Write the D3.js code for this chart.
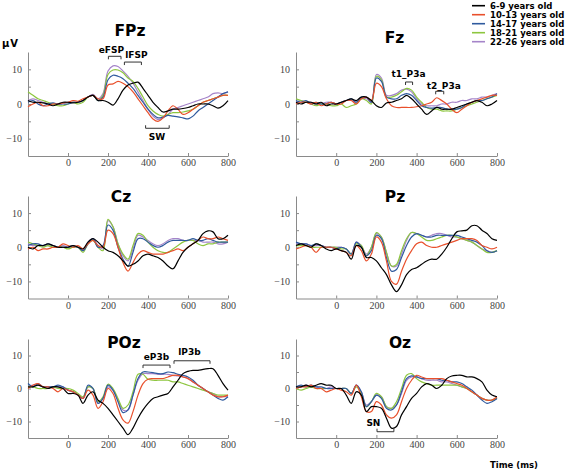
<!DOCTYPE html>
<html><head><meta charset="utf-8">
<script src="https://cdn.jsdelivr.net/npm/d3@7"></script>
<style>body{margin:0;background:#fff} svg{display:block}</style>
</head><body>
<svg id="chart" width="567" height="473"></svg>
<script>
// ---------- data ----------
const timeMs = [-200,-175,-150,-125,-100,-75,-50,-25,0,25,50,75,100,125,150,175,200,225,250,275,300,325,350,375,400,425,450,475,500,525,550,575,600,625,650,675,700,725,750,775,800];
const groups = ["6-9 years old","10-13 years old","14-17 years old","18-21 years old","22-26 years old"];
const electrodes = ["FPz","Fz","Cz","Pz","POz","Oz"];
const xTicks = [0,200,400,600,800];
const yTicks = [-10,-5,0,5,10];

// FPz
const fpz_6_9   = [1,0.5,0.5,0.3,0,-0.5,0,0.5,0.5,0.3,0.5,1,2,2.5,1,1, 0.5,-0.3,1.5,4,5.5,6,6.3,4.5,2.5,0.5,-1,-2.3,-2,-1.5,-1.5,-1.3,-1,-0.5,0,0,0,-0.5,-1.2,-0.5,1];
const fpz_10_13 = [-0.8,0,0.5,-0.5,-0.5,0,0,0.3,0.5,1,0.8,1.5,2,2.5,1.5,1.5, 5.5,5.8,6.5,6,5,3.5,1.5,-0.5,-2.5,-4.3,-5,-4,-2,-0.5,-1.5,-3,-2.5,-1.5,-0.5,0.5,1,1.5,2,2.5,2.5];
const fpz_14_17 = [0.5,1,0,-0.5,0,0.3,0,0,0,0.5,0.5,1,2,2.5,1,2, 7,8.3,8,7.3,6,4.5,2.5,0.5,-1.5,-3,-4,-3.8,-3.3,-3.5,-3.7,-4,-4.3,-3.5,-2,-1,0,1,2,3,3.5];
const fpz_18_21 = [3.5,2.5,1.5,1,0.5,0,-0.5,-0.5,0,0.5,0,0.5,2,2.5,1,2.5, 8.5,9.8,9.8,9,7.5,6.5,4.5,2,-0.5,-2,-3,-3.5,-3,-2.5,-2.5,-2.3,-2,-1.5,-0.5,0.5,1,1.5,2,2.5,2.5];
const fpz_22_26 = [1,1.5,1,0.5,0,0,0,0.3,0.5,0.5,0.5,1,2,2.8,1.5,3, 9.5,11,10.8,9.5,8,6,3.5,1,-1.5,-3.5,-4.5,-4,-3,-1.5,-1,-0.5,0,0.5,1,1.5,2,3,3.2,3,3.5];
// Fz
const fz_6_9   = [0.5,0,0.5,0.5,0,0.5,-0.5,0,0,0.5,1,1.5,1,2,2,1, -0.5,-1,0.3,0.5,1,1.5,2.5,1.5,0,-1.5,-3,-2,-1,-1.5,-1.5,-1.5,-1,-0.5,0,0.5,1,0.5,-0.5,0,1];
const fz_10_13 = [0,0.5,0.5,0,0.5,-0.5,0,0.5,0,0,1,1,0,1.5,2,1, 6,5,1.5,-0.5,-1,-1,-1,-1,-0.8,-0.5,0,0.5,1.8,1,0,-1.5,-2.5,-1.5,-0.5,0.5,1,1.5,2,2.5,2.5];
const fz_14_17 = [1,0.5,1,0,0.5,0,0,0.5,0,0.5,1,1.5,0.5,2,2,0.5, 7.5,6.5,2,1.5,1.5,2.5,3,2.5,1,-0.5,-1,-1.2,-1,-1,-1.5,-1.5,-1.5,-1,0,0.5,1,1,1.5,2,3];
const fz_18_21 = [1.5,1,0.5,0,-0.5,0,0,-0.5,-0.5,0,-1,-0.5,0,1.5,1,0, 8,7,2,2,2.5,3.5,4.5,4,2,0.5,-1,-1.5,-1.5,-2,-2,-2,-1.5,-1,-0.5,0,0.5,1,1.5,2,2.5];
const fz_22_26 = [0.5,1,0.5,0.5,0,0,0.5,0.5,0,0.5,1,1,0.5,1.5,1.5,0.5, 8.5,7.5,2.5,2.5,3,4,4.3,3.5,1.5,0,-0.5,-0.5,-0.5,0,0,0.5,0.5,1,1,1.5,1.5,2,2,2.5,3];
// Cz
const cz_6_9   = [0,-0.5,0.5,0.5,1,0.5,0,0,0,0.5,0,-0.5,1.5,2.5,1.5,0, -1,-1.5,-2.5,-4,-5.5,-5,-4,-2.5,-2,-2.5,-3,-4,-5.5,-6.3,-4,-1.5,0,1,2,4,4.8,4.5,2.5,2.5,3.5];
const cz_10_13 = [-0.5,0,-1,-0.5,-0.5,0,0,1,0.5,0,0.5,-0.5,1,2,0.5,0, 5,4,0,-4.5,-7,-4.5,-2,-1,-1.5,-2,-2,-2,-1.5,-1,-0.5,-1,0,1,2,3,2.5,2.5,3,2.5,2];
const cz_14_17 = [0.5,1,1,0.5,1,0.5,0,0,0,0.5,0,-1,1,2.5,0,0.5, 6.5,5,0,-3.5,-5.5,-1.5,2.5,2.5,1.5,0.5,0,0.5,1.5,2,2,2,2,2.5,2,2,2.5,2,1.5,1.5,1.5];
const cz_18_21 = [1.5,1,0.5,0,0.5,0,0,0,-0.5,0,0,-1.5,1,2,0,-1, 8.2,6,1,-2,-3.5,0.5,4,3.5,1.5,0,-1,-1.5,-1.5,-0.5,0.5,1.5,2,2,1,0.5,1,1,1.5,1.5,1.5];
const cz_22_26 = [1,0.5,0.5,0.5,0.5,0,0,0.5,0,0,0,-1,1.5,2.5,0.5,-0.5, 7.8,6,1,-2.5,-4,-0.5,3.5,3,2,1,0.5,1,2,2.5,2.5,2,2,2,2,1.5,1.5,1.5,1,1,1.5];
// Pz
const pz_6_9   = [0.5,1,0.5,0,1,0.5,-0.5,-1,-0.5,-1,-1.5,-3.5,0.5,0,-3,-3, -4,-6,-8,-11,-13,-11,-8,-6.5,-6,-5,-4,-3.5,-3.5,-2,0,2.5,4.5,4.8,5,6.3,6.3,5,4,2.5,2];
const pz_10_13 = [-0.5,0,0.5,0,-1.5,0,0,0,-0.5,-1,-1.5,-2.5,0.5,-1,-4,-2, 3,1.5,-4,-10,-10.8,-7,-3.5,-1,1,1.5,0.5,0,0,0.5,1,1.5,2,2.5,2.5,2.5,2,0.5,0,-0.5,0];
const pz_14_17 = [1.5,1,1,0.5,1,0.5,0,0,-0.5,0,-0.5,-2,1.5,0,-2.5,-1, 3.5,2.5,-3,-7,-6.5,-3,0.5,3,4,3.5,3,3,3.5,3.5,3.5,3.5,3.5,3,2.5,2,1.5,0.5,-1,-1.5,-1];
const pz_18_21 = [0.5,0.5,0.5,0,0,0,0,0,0,-0.5,-0.5,-2,1,0.5,-2.5,0, 4.3,3,-1.5,-5.5,-5,-1,2.5,4.3,4,3,2,2,2.5,3,3.5,3.5,3,2.5,2,1.5,0.5,-0.5,-1.5,-1.5,-1];
const pz_22_26 = [1,1,1,0.5,0.5,0.5,0,0,0,0,-0.5,-2,1.5,0.5,-2,0, 4,3,-1.5,-5.5,-5.5,-2,2,4.3,4,3.5,3,3.5,4,4,3.5,3,3,2.5,2,1.5,0.5,-0.5,-1,-1.5,-1];
// POz
const poz_6_9   = [0.5,0.5,1,0.5,0,0.5,0.5,0,-1.5,-1.5,-2,-4.5,-2,-1,-3.5,-4.5, -6,-8,-10,-12,-14,-12,-9,-6.5,-4.5,-3,-2.5,-2,-1.5,0.5,2.5,4.5,5.2,5.5,5.5,5.8,6,6,4,1.5,-0.5];
const poz_10_13 = [0,1,1.5,0.5,0.5,0,-1,0,-0.5,-1,-2,-3,-0.5,-2,-6,-4, 0,-1.5,-6,-9.5,-10.5,-7,-2,1.5,2.8,3,3,3,3.5,4,4,3.5,3,2,1,0,-1,-2,-2.5,-2.5,-2];
const poz_14_17 = [1.5,0.5,1.5,0.5,0.5,0.5,1,0.5,-0.5,-1,-2,-3,1,0,-4.5,-3, 1,-0.5,-4,-7.3,-6.5,-2,3,5,5,4.8,4.5,4.5,5,4.8,4.3,4,3.5,2.5,1,0,-1,-2,-3,-3.5,-2.5];
const poz_18_21 = [0.5,0.5,0,0,0,0.5,0,0,0,-0.5,-1.5,-2.5,0.5,0,-4,-2.5, 1.3,0,-3,-6,-5,-1,4.3,4.3,2.8,2.5,2.5,2.5,2.5,2,2,1.5,1,0.5,0,-0.5,-1,-1.5,-2,-2,-2];
const poz_22_26 = [0.5,1,1,0.5,0.5,0.5,0.5,0.5,-0.5,-1,-2,-3,0.5,0,-4.5,-3, 0.5,-0.5,-3.5,-6.5,-6.5,-2,2.5,4.5,4.5,4.5,4.3,4.3,4.3,4,3.8,3.5,3,2,1,0,-1,-1.5,-2.5,-2.5,-2.5];
// Oz
const oz_6_9   = [0.5,0.5,1,0.5,1,1.5,1,1,0,0,-2,-4.5,-1,-2,-7,-5.5, -5.5,-6,-9,-12,-11.5,-8,-5.5,-3,-1.5,0.5,1.5,1,0,1,3,3.8,4,4,3.5,3.5,3,2,-0.5,-2,-2.5];
const oz_10_13 = [0,0.5,0.5,1,0,0,-1,-0.5,0,-0.5,-1,-2,1,-2.5,-7,-7, -4,-5,-8,-9,-8,-4,0,2.5,4,3.5,3,3,3,3,2.5,2,1.5,1,0,-1,-2,-3,-3.5,-3.5,-2.5];
const oz_14_17 = [0.5,1,0.5,1,0.5,0.5,0,0,0,0,0,-1.5,1,-1,-5.5,-4, -2,-3,-6,-6.5,-5,-1,3,3.8,3.5,3,3,3,3,2.5,2.5,2,2,1.5,0.5,-0.5,-2,-3.5,-4.5,-4,-3];
const oz_18_21 = [0,-0.5,0,0.5,0,0,0,0,0,0,0,-1.5,0.5,-1.5,-5.5,-4, -1.5,-2.5,-5.5,-6,-4,0,4,4.5,3,2,1.5,1,1,1,1,1,1,0.5,0,-1,-2,-3,-3.5,-3.5,-3];
const oz_22_26 = [0.5,0.5,1,0.5,0.5,0,0,0.5,0,0,0,-1.5,1,-1,-5,-4, -2,-2.5,-5.5,-6,-5,-1.5,2.5,3.5,3.5,3,2.5,2.5,2.5,2,2,1.5,1,0.5,0,-1,-2,-3,-3.5,-3.5,-3];

// annotations (time window in ms, amplitude in µV)
const annotations = [
  {panel:"FPz", label:"eFSP",   t0:202, t1:265, v:13.76, dir:1,  lt:217, lv:14.7},
  {panel:"FPz", label:"lFSP",   t0:282, t1:367, v:12.1,  dir:1,  lt:342, lv:13.3},
  {panel:"FPz", label:"SW",     t0:388, t1:506, v:-7.0,  dir:-1, lt:445, lv:-10.4},
  {panel:"Fz",  label:"t1_P3a", t0:345, t1:380, v:6.35,  dir:1,  lt:360, lv:7.8},
  {panel:"Fz",  label:"t2_P3a", t0:495, t1:535, v:3.66,  dir:1,  lt:535, lv:4.3},
  {panel:"POz", label:"eP3b",   t0:375, t1:510, v:7.1,   dir:1,  lt:442, lv:8.6},
  {panel:"POz", label:"lP3b",   t0:530, t1:710, v:8.4,   dir:1,  lt:607, lv:10.15},
  {panel:"Oz",  label:"SN",     t0:203, t1:287, v:-13.1, dir:-1, lt:185, lv:-11.4}
];

// ---------- layout / style ----------
const colors = ["#000000","#e9502c","#2f5a9e","#8dc63f","#a584c9"];
const colX = [[28,228],[296,497]];
const rowY = [[156,52],[298.5,196],[438,339]];
const titlePos = [[130,35.5],[394.5,42.5],[121,202],[395,202],[124,348],[400,348]];
const seriesByPanel = [
  [fpz_6_9,fpz_10_13,fpz_14_17,fpz_18_21,fpz_22_26],
  [fz_6_9,fz_10_13,fz_14_17,fz_18_21,fz_22_26],
  [cz_6_9,cz_10_13,cz_14_17,cz_18_21,cz_22_26],
  [pz_6_9,pz_10_13,pz_14_17,pz_18_21,pz_22_26],
  [poz_6_9,poz_10_13,poz_14_17,poz_18_21,poz_22_26],
  [oz_6_9,oz_10_13,oz_14_17,oz_18_21,oz_22_26]
];
const sans = "'DejaVu Sans', Verdana, sans-serif";
const serif = "'Liberation Serif', 'Times New Roman', serif";

const svg = d3.select("#chart");
svg.append("rect").attr("width",567).attr("height",473).attr("fill","#fff");
const fmt = d3.format("d");

electrodes.forEach((name, pi) => {
  const col = pi % 2, row = Math.floor(pi / 2);
  const x = d3.scaleLinear().domain([-200, 800]).range(colX[col]);
  const y = d3.scaleLinear().domain([-15, 15]).range(rowY[row]);
  const g = svg.append("g");

  // axes
  const yAxis = d3.axisLeft(y).tickValues(yTicks).tickSizeInner(-3).tickSizeOuter(0).tickPadding(6)
    .tickFormat(d => d % 10 === 0 ? fmt(d) : "");
  const ya = g.append("g").attr("transform", `translate(${colX[col][0]},0)`).call(yAxis);
  const xAxis = d3.axisBottom(x).tickValues(xTicks).tickSizeInner(-3).tickSizeOuter(0).tickPadding(3)
    .tickFormat(fmt);
  const xa = g.append("g").attr("transform", `translate(0,${rowY[row][0]})`).call(xAxis);
  [ya, xa].forEach(a => {
    a.select(".domain").attr("stroke", "#8a8a8a").attr("stroke-width", 1);
    a.selectAll(".tick line").attr("stroke", "#8a8a8a");
    a.selectAll("text").attr("font-family", serif).attr("font-size", 10).attr("fill", "#444");
  });

  // waveforms
  const line = d3.line().x((d, i) => x(timeMs[i])).y(d => y(d)).curve(d3.curveCatmullRom.alpha(0.5));
  const order = [4,3,2,1,0];
  order.forEach(gi => {
    g.append("path").datum(seriesByPanel[pi][gi])
      .attr("d", line).attr("fill", "none")
      .attr("stroke", colors[gi]).attr("stroke-width", 1.2).attr("stroke-linejoin", "round");
  });

  // title
  g.append("text").attr("x", titlePos[pi][0]).attr("y", titlePos[pi][1])
    .attr("text-anchor", "middle").attr("font-family", sans).attr("font-weight", "bold")
    .attr("font-size", 15.5).attr("fill", "#000").text(name);

  // annotations
  annotations.filter(a => a.panel === name).forEach(a => {
    const yy = y(a.v), x0 = x(a.t0), x1 = x(a.t1), tk = 3 * a.dir;
    g.append("path").attr("d", `M${x0},${yy + tk}V${yy}H${x1}V${yy + tk}`)
      .attr("fill", "none").attr("stroke", "#333").attr("stroke-width", 1);
    g.append("text").attr("x", x(a.lt)).attr("y", y(a.lv)).attr("text-anchor", "middle")
      .attr("font-family", sans).attr("font-weight", "bold").attr("font-size", 9)
      .attr("fill", "#000").text(a.label);
  });
});

// µV label
svg.append("text").attr("x", 2).attr("y", 47).attr("font-family", sans).attr("font-weight", "bold")
  .attr("font-size", 10).attr("letter-spacing", 1).text("µV");

// legend
const leg = svg.append("g");
groups.forEach((lab, i) => {
  const yy = 5.7 + i * 9;
  leg.append("line").attr("x1", 472).attr("x2", 485).attr("y1", yy).attr("y2", yy)
    .attr("stroke", colors[i]).attr("stroke-width", 1.6);
  leg.append("text").attr("x", 490).attr("y", yy).attr("dy", "0.35em")
    .attr("font-family", sans).attr("font-weight", "bold").attr("font-size", 8.5).text(lab);
});

// x title
svg.append("text").attr("x", 514).attr("y", 468).attr("text-anchor", "middle")
  .attr("font-family", sans).attr("font-weight", "bold").attr("font-size", 8.5).text("Time (ms)");
</script>
</body></html>
